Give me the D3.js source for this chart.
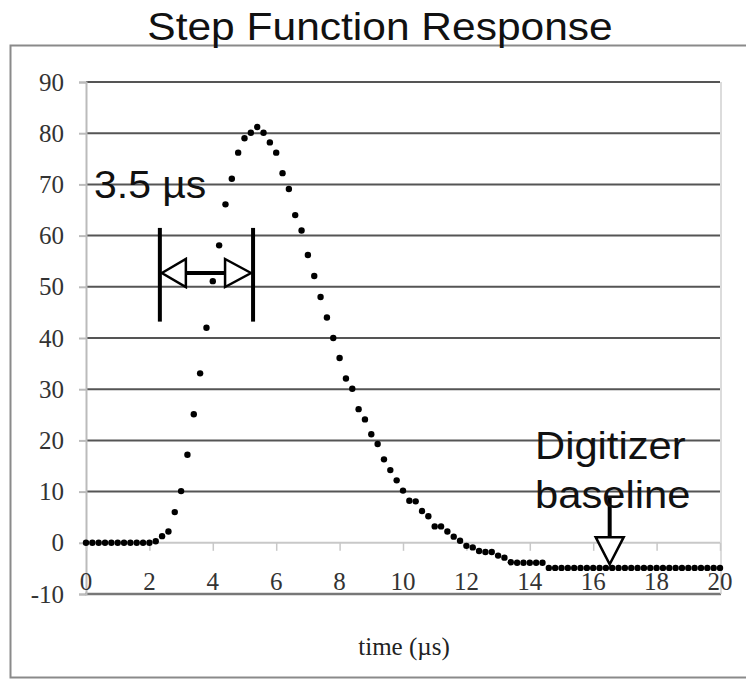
<!DOCTYPE html>
<html><head><meta charset="utf-8">
<script src="https://cdn.jsdelivr.net/npm/d3@7"></script>
<style>html,body{margin:0;padding:0;background:#fff;}svg{display:block;}</style>
</head><body>
<svg id="c" width="746" height="681"></svg>
<script>
// ---- data ----
const times = [0,0.2,0.4,0.6,0.8,1.0,1.2,1.4,1.6,1.8,2.0,2.2,2.4,2.6,2.8,3.0,3.2,3.4,3.6,3.8,
  4.0,4.2,4.4,4.6,4.8,5.0,5.2,5.4,5.6,5.8,6.0,6.2,6.4,6.6,6.8,7.0,7.2,7.4,7.6,7.8,
  8.0,8.2,8.4,8.6,8.8,9.0,9.2,9.4,9.6,9.8,10.0,10.2,10.4,10.6,10.8,11.0,11.2,11.4,11.6,11.8,
  12.0,12.2,12.4,12.6,12.8,13.0,13.2,13.4,13.6,13.8,14.0,14.2,14.4,14.6,14.8,15.0,15.2,15.4,15.6,15.8,
  16.0,16.2,16.4,16.6,16.8,17.0,17.2,17.4,17.6,17.8,18.0,18.2,18.4,18.6,18.8,19.0,19.2,19.4,19.6,19.8,20.0];
const response = [0,0,0,0,0,0,0,0,0,0,0,0.3,1.3,2.2,6.0,10.1,17.2,25.1,33.1,42.0,
  51.1,58.1,66.1,71.1,76.2,79.0,80.1,81.2,80.1,78.2,76.2,72.2,69.1,64.0,61.0,56.2,52.1,48.0,44.0,40.0,
  36.1,32.1,30.1,26.1,24.1,21.2,19.3,16.3,14.2,12.2,10.2,8.2,8.1,6.2,5.2,3.2,3.2,2.2,1.2,0.4,
  -0.6,-0.9,-1.6,-1.8,-1.8,-2.5,-2.9,-3.8,-3.9,-3.9,-3.9,-3.9,-3.9,-4.9,-4.9,-4.9,-4.9,-4.9,-4.9,-4.9,
  -4.9,-4.9,-4.9,-4.9,-4.9,-4.9,-4.9,-4.9,-4.9,-4.9,-4.9,-4.9,-4.9,-4.9,-4.9,-4.9,-4.9,-4.9,-4.9,-4.9,-4.9];
const xTicks = [0,2,4,6,8,10,12,14,16,18,20];
const yTicks = [-10,0,10,20,30,40,50,60,70,80,90];
const yTickLabels = ["-10","0","10","20","30","40","50","60","70","80","90"];
const title = "Step Function Response";
const xTitle = "time (\u00b5s)";
const widthLabel = "3.5 \u00b5s";
const baseLabel = ["Digitizer", "baseline"];
// annotation anchors in data units
const bracketT = [2.33, 5.27], bracketV = [43.2, 61.5], bracketArrowV = 52.7;
const baseArrowT = 16.52, baseArrowV = [8.8, 1.1, -4.2];

// ---- chart ----
const svg = d3.select("#c");
const x = d3.scaleLinear().domain([0,20]).range([86,720]);
const y = d3.scaleLinear().domain([-10,90]).range([594,82]);
const sans = "'Liberation Sans', Arial, Helvetica, sans-serif";
const serif = "'Liberation Serif', 'Times New Roman', serif";

// outer frame
svg.append("rect").attr("x",10.5).attr("y",45.5).attr("width",800).attr("height",632)
  .attr("fill","none").attr("stroke","#8a8a8a").attr("stroke-width",2);

function sText(txt, px, py, size, anchor, sx){
  const g = svg.append("g").attr("transform",`translate(${px},${py}) scale(${sx},1)`);
  g.append("text").attr("x",0).attr("y",0).attr("text-anchor",anchor)
    .attr("font-family",sans).attr("font-size",size).attr("fill","#111").text(txt);
  return g;
}
sText(title, 380, 39.5, 39, "middle", 1.09);

// gridlines
const grid = svg.append("g");
grid.selectAll("line.g").data(yTicks.filter(v=>v>0)).join("line")
  .attr("x1",x(0)).attr("x2",x(20)).attr("y1",d=>y(d)).attr("y2",d=>y(d))
  .attr("stroke","#555").attr("stroke-width",2);
grid.append("line").attr("x1",x(0)).attr("x2",x(20)).attr("y1",y(0)).attr("y2",y(0))
  .attr("stroke","#c8c8c8").attr("stroke-width",2);
grid.append("line").attr("x1",x(0)-1).attr("x2",x(20)+1).attr("y1",y(-10)).attr("y2",y(-10))
  .attr("stroke","#777").attr("stroke-width",2.5);
grid.append("line").attr("x1",x(20)+1).attr("x2",x(20)+1).attr("y1",y(90)).attr("y2",y(-10))
  .attr("stroke","#d0d0d0").attr("stroke-width",1.5);

// y axis
const yAxis = d3.axisLeft(y).tickValues(yTicks).tickSize(7).tickPadding(15)
  .tickFormat((d,i)=>yTickLabels[i]);
const ya = svg.append("g").attr("transform",`translate(${x(0)},0)`).call(yAxis);
ya.select(".domain").attr("stroke","#bbb").attr("stroke-width",2);
ya.selectAll(".tick line").attr("stroke","#bbb").attr("stroke-width",2);
ya.selectAll(".tick text").attr("font-family",serif).attr("font-size",25).attr("fill","#333");

// x axis ticks on zero line
const xAxis = d3.axisBottom(x).tickValues(xTicks).tickSize(8).tickFormat("");
const xa = svg.append("g").attr("transform",`translate(0,${y(0)})`).call(xAxis);
xa.select(".domain").remove();
xa.selectAll(".tick line").attr("stroke","#c8c8c8").attr("stroke-width",1.5);
svg.append("g").selectAll("text").data(xTicks).join("text")
  .attr("x",d=>x(d)).attr("y",y(-10)-4).attr("text-anchor","middle")
  .attr("font-family",serif).attr("font-size",25).attr("fill","#333").text(d=>String(d));

// x title
svg.append("text").attr("x",404).attr("y",655).attr("text-anchor","middle")
  .attr("font-family",serif).attr("font-size",25).attr("fill","#222").text(xTitle);

// data points
svg.append("g").selectAll("circle").data(times.map((t,i)=>[t,response[i]])).join("circle")
  .attr("cx",d=>x(d[0])).attr("cy",d=>y(d[1])).attr("r",3.2).attr("fill","#000");

// annotation: 3.5 us bracket
sText(widthLabel, 94, 198, 39, "start", 1.05);
const ann = svg.append("g").attr("stroke","#000");
bracketT.forEach(t=>{
  ann.append("line").attr("x1",x(t)).attr("x2",x(t)).attr("y1",y(bracketV[1])).attr("y2",y(bracketV[0]))
    .attr("stroke-width",4);
});
const ay = y(bracketArrowV), xl = x(bracketT[0]), xr = x(bracketT[1]);
ann.append("line").attr("x1",xl+25).attr("x2",xr-27).attr("y1",ay).attr("y2",ay).attr("stroke-width",4);
ann.append("path").attr("d",`M${xl+2},${ay} L${xl+26},${ay-14} L${xl+26},${ay+14} Z`)
  .attr("fill","#fff").attr("stroke-width",2.5);
ann.append("path").attr("d",`M${xr-2},${ay} L${xr-28},${ay-14} L${xr-28},${ay+14} Z`)
  .attr("fill","#fff").attr("stroke-width",2.5);

// annotation: digitizer baseline
sText(baseLabel[0], 535, 459, 39, "start", 1.07);
sText(baseLabel[1], 535, 508, 39, "start", 1.07);
const bx = x(baseArrowT);
ann.append("line").attr("x1",bx).attr("x2",bx).attr("y1",y(baseArrowV[0])).attr("y2",y(baseArrowV[1]))
  .attr("stroke-width",4);
ann.append("path").attr("d",`M${bx-14},${y(baseArrowV[1])} L${bx+14},${y(baseArrowV[1])} L${bx},${y(baseArrowV[2])} Z`)
  .attr("fill","#fff").attr("stroke-width",2.5);
</script>
</body></html>
